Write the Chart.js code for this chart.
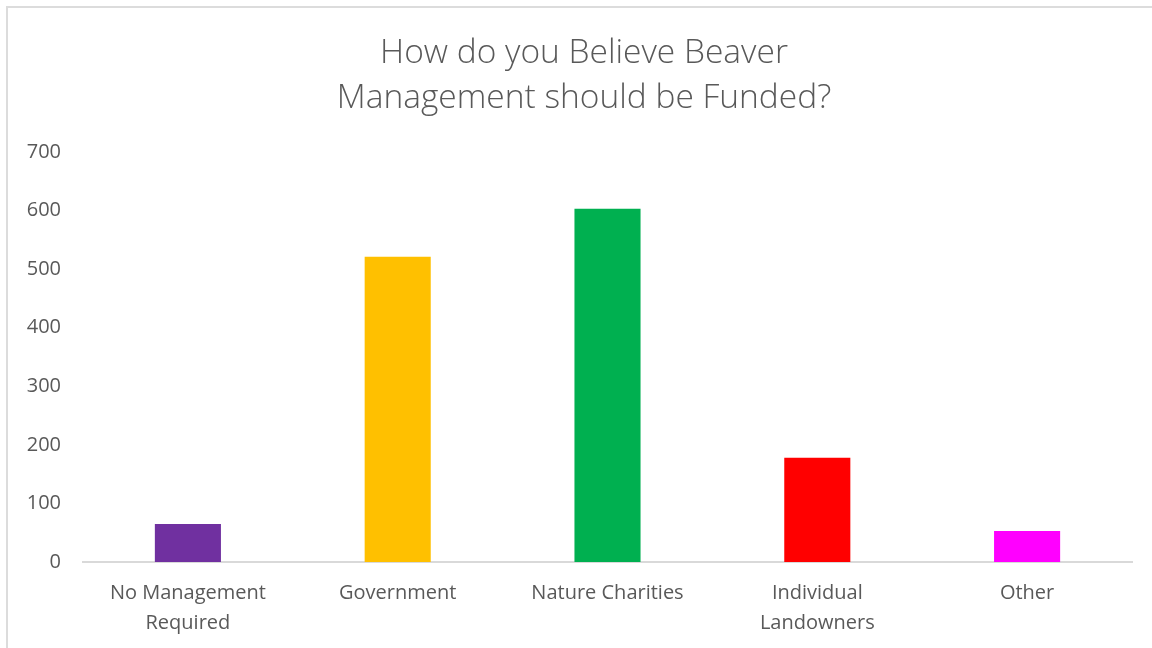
<!DOCTYPE html>
<html>
<head>
<meta charset="utf-8">
<script src="https://cdn.jsdelivr.net/npm/chart.js@4"></script>
<style>
  html, body { margin: 0; padding: 0; background: #ffffff; overflow: hidden; }
  #wrap { position: relative; width: 1152px; height: 648px; }
  #frame { position: absolute; left: 6px; top: 6px; width: 1200px; height: 700px;
           border: 2px solid #dcdcdc; box-sizing: border-box; pointer-events: none; }
  canvas { position: absolute; left: 0; top: 0; }
</style>
</head>
<body>
<div id="wrap">
  <canvas id="chart" width="1152" height="648"></canvas>
  <div id="frame"></div>
</div>
<script>
// Survey responses: preferred funding source for beaver management
const categories = [
  ["No Management", "Required"],
  "Government",
  "Nature Charities",
  ["Individual", "Landowners"],
  "Other"
];
const responses = [65, 521, 603, 178, 53];
const barColors = ["#7030A0", "#FFC000", "#00B050", "#FF0000", "#FF00FF"];
const titleLines = ["How do you Believe Beaver", "Management should be Funded?"];
const yMin = 0, yMax = 700, yStep = 100;

const textGrey = "#595959";

// Center the title on the outer frame rather than on the canvas
const frameTitle = {
  id: "frameTitle",
  afterLayout(chart) {
    const t = chart.titleBlock;
    if (t) { t.left = 0; t.right = 1168; t.width = 1168; }
  }
};

new Chart(document.getElementById("chart"), {
  type: "bar",
  data: {
    labels: categories,
    datasets: [{
      data: responses,
      backgroundColor: barColors,
      borderWidth: 0,
      barPercentage: 0.315,
      categoryPercentage: 1.0
    }]
  },
  plugins: [frameTitle],
  options: {
    responsive: false,
    animation: false,
    devicePixelRatio: 1,
    layout: { padding: { left: 0, right: 20, top: 0, bottom: 0 } },
    plugins: {
      legend: { display: false },
      tooltip: { enabled: false },
      title: {
        display: true,
        text: titleLines,
        color: textGrey,
        font: { family: "'Open Sans', sans-serif", size: 33.5, weight: 300, lineHeight: 1.35 },
        padding: { top: 31, bottom: 30.5 }
      }
    },
    scales: {
      x: {
        grid: { display: false, drawTicks: false },
        border: { display: true, color: "#d9d9d9", width: 2 },
        ticks: {
          color: textGrey,
          font: { family: "'Open Sans', sans-serif", size: 20, lineHeight: 1.5 },
          padding: 16,
          maxRotation: 0,
          autoSkip: false
        },
        afterFit: (s) => { s.height = 86; }
      },
      y: {
        min: yMin,
        max: yMax,
        grid: { display: false, drawTicks: false },
        border: { display: false },
        ticks: {
          stepSize: yStep,
          color: textGrey,
          font: { family: "'Open Sans', sans-serif", size: 20 },
          padding: 22
        },
        afterFit: (s) => { s.width = 83; }
      }
    }
  }
});
</script>
</body>
</html>
